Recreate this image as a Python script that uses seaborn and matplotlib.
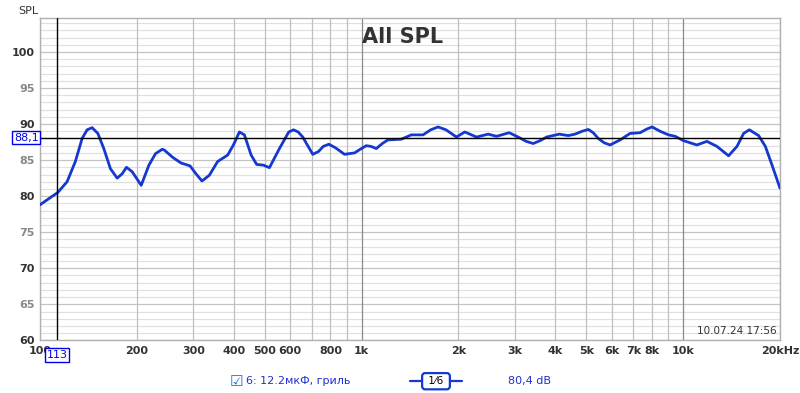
import numpy as np
import pandas as pd
import seaborn as sns
from matplotlib import pyplot as plt

freq = [100, 107.7, 113.5, 121.4, 128.8, 135.2, 140.1, 145.2, 151.3, 157.9,
        165.6, 173.8, 180.1, 185.7, 193.4, 206.4, 218.1, 228.7, 239.9, 243.4,
        258.3, 274.4, 292.7, 305.5, 318.9, 336.2, 356.7, 383.4, 399.4, 416.9,
        432.1, 453.4, 471.8, 495.1, 516.9, 555.3, 593.6, 614.1, 635, 656.3,
        680, 705.2, 735, 760, 791.0, 830, 885.2, 951.0, 990, 1034,
        1070, 1111, 1160, 1207, 1329, 1428, 1553, 1640, 1729, 1830,
        1972, 2094, 2277, 2475, 2628, 2877, 3068, 3250, 3417, 3590,
        3762, 4118, 4391, 4608, 4850, 5070, 5250, 5446, 5680, 5925,
        6365, 6837, 7345, 7700, 8000, 8478, 9000, 9443, 10021, 11030,
        11851, 12735, 13841, 14700, 15413, 16055, 17166, 18009, 18892, 20000]
spl = [78.8, 79.8, 80.5, 82.0, 84.8, 88.0, 89.2, 89.5, 88.7, 86.6,
       83.8, 82.5, 83.1, 84.0, 83.4, 81.5, 84.3, 85.9, 86.5, 86.4,
       85.4, 84.6, 84.2, 83.1, 82.1, 82.9, 84.8, 85.7, 87.1, 88.9,
       88.5, 85.7, 84.4, 84.3, 83.95, 86.6, 88.9, 89.2, 88.9, 88.2,
       87.0, 85.8, 86.2, 86.9, 87.2, 86.7, 85.8, 86.0, 86.5, 87.0,
       86.9, 86.6, 87.3, 87.8, 87.9, 88.5, 88.5, 89.2, 89.6, 89.2,
       88.2, 88.9, 88.2, 88.6, 88.3, 88.8, 88.2, 87.6, 87.3, 87.7,
       88.2, 88.6, 88.4, 88.6, 89.0, 89.25, 88.8, 88.0, 87.4, 87.1,
       87.8, 88.7, 88.8, 89.3, 89.6, 89.0, 88.5, 88.3, 87.7, 87.1,
       87.6, 86.9, 85.6, 86.9, 88.7, 89.2, 88.4, 86.9, 84.3, 81.1]

grid_freqs = [100, 200, 300, 400, 500, 600, 700, 800, 900, 1000,
              2000, 3000, 4000, 5000, 6000, 7000, 8000, 9000, 10000, 20000]
grid_labels = ['100', '200', '300', '400', '500', '600', '', '800', '', '1k',
               '2k', '3k', '4k', '5k', '6k', '7k', '8k', '', '10k', '20kHz']
y_ticks = [60, 65, 70, 75, 80, 85, 90, 95, 100]

cursor_f = 113
cursor_db = 88.1

df = pd.DataFrame({'f': freq, 'spl': spl})

sns.set_style('white')
plt.rcParams['font.family'] = ['DejaVu Sans']

fig = plt.figure(figsize=(8, 3.93), dpi=100)
ax = fig.add_axes([0.05, 0.134, 0.925, 0.82])

ax.set_xscale('log')
ax.set_xlim(100, 20000)
ax.set_ylim(60, 104.7)

# grid
for v in np.arange(60, 105, 1):
    ax.axhline(v, color='#c4c4c4' if v % 5 == 0 else '#e0e0e0', lw=0.9, zorder=0)
for f in grid_freqs:
    c = '#8a8a8a' if f in (1000, 10000) else '#c0c0c0'
    ax.axvline(f, color=c, lw=0.9, zorder=0)

sns.lineplot(data=df, x='f', y='spl', color='#1438d0', lw=2.0, ax=ax, zorder=3)

# cursor
ax.axvline(cursor_f, color='black', lw=1.0, zorder=4)
ax.axhline(cursor_db, color='black', lw=1.0, zorder=4)

ax.set_xticks(grid_freqs)
ax.set_xticklabels(grid_labels, fontsize=8, fontweight='bold', color='#333333')
ax.xaxis.set_minor_locator(plt.NullLocator())
ax.set_yticks(y_ticks)
ax.set_yticklabels([str(v) for v in y_ticks], fontsize=8, fontweight='bold')
for v, lab in zip(y_ticks, ax.get_yticklabels()):
    lab.set_color('#333333' if v % 10 == 0 else '#888888')
ax.tick_params(length=0, pad=4)
ax.set_xlabel('')
ax.set_ylabel('')

for s in ax.spines.values():
    s.set_color('#b0b0b0')
    s.set_linewidth(1.0)

ax.text(0.49, 0.94, 'All SPL', transform=ax.transAxes, ha='center', va='center',
        fontsize=15, fontweight='bold', color='#333333')
ax.text(0.995, 0.015, '10.07.24 17:56', transform=ax.transAxes, ha='right', va='bottom',
        fontsize=7.5, color='#333333')
fig.text(0.035, 0.985, 'SPL', ha='center', va='top', fontsize=8, color='#333333')

# cursor readouts
box = dict(boxstyle='square,pad=0.15', fc='white', ec='#0000ee', lw=1.0)
ax.text(-0.002, cursor_db, '88,1', transform=ax.get_yaxis_transform(), ha='right', va='center',
        fontsize=8, color='#0000ee', bbox=box, zorder=6)
ax.text(cursor_f, -0.045, '113', transform=ax.get_xaxis_transform(), ha='center', va='center',
        fontsize=8, color='#0000ee', bbox=box, zorder=6)

# legend row
fig.text(0.295, 0.03, '\u2611', ha='center', va='center', fontsize=11, color='#1a6fe0')
fig.text(0.308, 0.03, '6: 12.2мкФ, гриль', ha='left', va='center', fontsize=8, color='#2030d0')
fig.add_artist(plt.Line2D([0.513, 0.578], [0.03, 0.03], color='#1438d0', lw=1.6))
fig.text(0.545, 0.03, ' 1\u20446 ', ha='center', va='center', fontsize=7.5, color='black',
         bbox=dict(boxstyle='round,pad=0.3', fc='white', ec='#1438d0', lw=1.6))
fig.text(0.635, 0.03, '80,4 dB', ha='left', va='center', fontsize=8, color='#2030d0')

plt.savefig('out.png', dpi=100)
plt.close()
